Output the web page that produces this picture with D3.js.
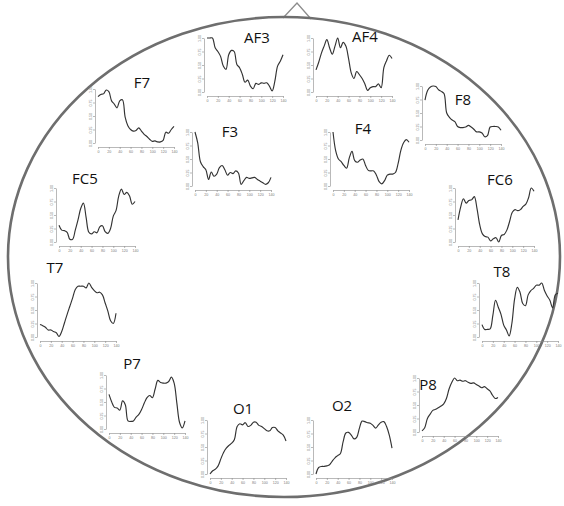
<!DOCTYPE html>
<html>
<head>
<meta charset="utf-8">
<script src="https://cdn.jsdelivr.net/npm/d3@7/dist/d3.min.js"></script>
<style>
  html, body { margin: 0; padding: 0; background: #fff; }
  svg { display: block; }
</style>
</head>
<body>
<svg id="chart" width="564" height="506"></svg>
<script>
// EEG channel traces, normalised amplitude (0–1) sampled every 5 time units
const channels = ["AF3", "AF4", "F7", "F8", "F3", "F4", "FC5", "FC6", "T7", "T8", "P7", "P8", "O1", "O2"];
const timeSteps = [0, 5, 10, 15, 20, 25, 30, 35, 40, 45, 50, 55, 60, 65, 70, 75, 80, 85, 90, 95, 100, 105, 110, 115, 120, 125, 130, 135, 140];
const xTicks = [0, 20, 40, 60, 80, 100, 120, 140];
const yTicks = [0, 0.25, 0.5, 0.75, 1];

const af3 = [1.0, 1.0, 1.0, 0.82, 0.75, 0.66, 0.48, 0.42, 0.69, 0.77, 0.75, 0.51, 0.45, 0.33, 0.18, 0.22, 0.11, 0.06, 0.16, 0.14, 0.17, 0.16, 0.17, 0.11, 0.02, 0.20, 0.48, 0.57, 0.69];
const af4 = [0.41, 0.55, 0.72, 0.85, 0.97, 0.82, 0.70, 0.85, 1.0, 0.82, 0.92, 0.85, 0.62, 0.35, 0.25, 0.38, 0.32, 0.25, 0.15, 0.03, 0.08, 0.10, 0.10, 0.15, 0.08, 0.45, 0.58, 0.68, 0.62];
const f7  = [0.86, 0.90, 0.91, 0.98, 0.95, 0.78, 0.72, 0.65, 0.78, 0.80, 0.48, 0.32, 0.25, 0.22, 0.23, 0.28, 0.22, 0.16, 0.12, 0.07, 0.03, 0.04, 0.02, 0.02, 0.05, 0.20, 0.18, 0.25, 0.31];
const f8  = [0.74, 0.92, 0.98, 1.0, 0.99, 0.93, 0.90, 0.86, 0.50, 0.42, 0.37, 0.34, 0.25, 0.23, 0.23, 0.24, 0.27, 0.24, 0.20, 0.15, 0.15, 0.13, 0.06, 0.08, 0.24, 0.25, 0.25, 0.24, 0.18];
const f3  = [1.0, 0.80, 0.45, 0.36, 0.30, 0.12, 0.26, 0.18, 0.22, 0.34, 0.38, 0.30, 0.20, 0.25, 0.23, 0.28, 0.24, 0.03, 0.10, 0.16, 0.14, 0.15, 0.16, 0.12, 0.09, 0.06, 0.03, 0.06, 0.16];
const f4  = [1.0, 0.65, 0.50, 0.45, 0.38, 0.33, 0.52, 0.64, 0.47, 0.44, 0.48, 0.50, 0.38, 0.29, 0.28, 0.28, 0.20, 0.08, 0.04, 0.10, 0.20, 0.22, 0.22, 0.25, 0.42, 0.66, 0.80, 0.86, 0.81];
const fc5 = [0.31, 0.22, 0.21, 0.18, 0.05, 0.05, 0.22, 0.41, 0.62, 0.72, 0.45, 0.18, 0.15, 0.19, 0.17, 0.28, 0.30, 0.19, 0.16, 0.25, 0.48, 0.58, 0.85, 0.98, 0.88, 0.92, 0.85, 0.70, 0.75];
const fc6 = [0.41, 0.65, 0.80, 0.72, 0.77, 0.78, 0.84, 0.62, 0.32, 0.15, 0.10, 0.09, 0.02, 0.06, 0.08, 0.00, 0.12, 0.14, 0.22, 0.38, 0.55, 0.60, 0.58, 0.60, 0.66, 0.70, 0.82, 1.0, 0.94];
const t7  = [0.23, 0.21, 0.18, 0.13, 0.13, 0.10, 0.08, 0.01, 0.10, 0.26, 0.42, 0.57, 0.72, 0.88, 0.94, 0.94, 0.94, 0.91, 1.0, 0.92, 0.86, 0.82, 0.83, 0.78, 0.63, 0.48, 0.30, 0.25, 0.44];
const t8  = [0.23, 0.14, 0.14, 0.15, 0.40, 0.68, 0.55, 0.42, 0.22, 0.13, 0.02, 0.25, 0.70, 0.92, 0.83, 0.62, 0.58, 0.78, 0.86, 0.90, 0.96, 0.96, 1.0, 0.86, 0.76, 0.68, 0.54, 0.78, 0.81];
const p7  = [0.64, 0.50, 0.40, 0.39, 0.35, 0.52, 0.45, 0.15, 0.14, 0.15, 0.22, 0.27, 0.36, 0.48, 0.58, 0.62, 0.58, 0.74, 0.90, 0.86, 0.85, 0.85, 0.88, 0.96, 0.85, 0.48, 0.12, 0.02, 0.15];
const p8  = [0.02, 0.08, 0.25, 0.33, 0.40, 0.42, 0.45, 0.48, 0.52, 0.62, 0.80, 0.92, 1.0, 0.95, 0.96, 0.94, 0.95, 0.92, 0.90, 0.91, 0.88, 0.85, 0.82, 0.84, 0.80, 0.76, 0.68, 0.62, 0.64];
const o1  = [0.0, 0.06, 0.09, 0.15, 0.28, 0.40, 0.48, 0.53, 0.57, 0.64, 0.88, 0.93, 0.91, 0.95, 0.88, 0.90, 0.96, 0.96, 0.90, 0.88, 0.84, 0.80, 0.80, 0.86, 0.86, 0.80, 0.76, 0.72, 0.61];
const o2  = [0.0, 0.12, 0.14, 0.14, 0.15, 0.17, 0.24, 0.30, 0.34, 0.38, 0.60, 0.76, 0.77, 0.72, 0.65, 0.68, 0.85, 0.98, 0.97, 0.95, 0.94, 0.90, 0.85, 0.91, 0.96, 0.97, 0.88, 0.72, 0.48];

const seriesValues = [af3, af4, f7, f8, f3, f4, fc5, fc6, t7, t8, p7, p8, o1, o2];

// Electrode placement on the head map: left edge of the time axis, top of the trace area
const panelLeft = [207, 316, 98, 425, 195, 333, 59, 458, 40, 482, 109, 422, 210, 316];
const panelTop  = [38, 38, 89, 86, 132, 132, 188, 188, 283, 283, 375, 378, 420, 420];
// Channel name anchor (centre x, baseline y)
const labelX = [257, 365, 142, 463, 230, 363, 85, 500, 55, 502, 132, 428, 243, 342];
const labelY = [43, 42, 88, 105, 137, 134, 184, 185, 273, 277, 369, 390, 414, 411];

const panelW = 76, panelH = 54;
const axisColor = "#8a8a8a";

const svg = d3.select("#chart");

// Head outline with nose
const head = { cx: 284, cy: 257, rx: 276, ry: 240 };
svg.append("path")
  .attr("d", "M283,18 L297,3 L311,19")
  .attr("fill", "#fff")
  .attr("stroke", "#8c8c8c")
  .attr("stroke-width", 1.3)
  .attr("stroke-linejoin", "miter");
svg.append("ellipse")
  .attr("cx", head.cx).attr("cy", head.cy)
  .attr("rx", head.rx).attr("ry", head.ry)
  .attr("fill", "none")
  .attr("stroke", "#6e6e6e")
  .attr("stroke-width", 2.6);

const x = d3.scaleLinear().domain([0, 140]).range([0, panelW]);
const y = d3.scaleLinear().domain([0, 1]).range([panelH, 0]);

const line = d3.line()
  .x((d, i) => x(timeSteps[i]))
  .y(d => y(d))
  .curve(d3.curveCatmullRom.alpha(0.5));

channels.forEach((name, k) => {
  const g = svg.append("g")
    .attr("transform", `translate(${panelLeft[k]},${panelTop[k]})`);

  // time axis, offset below the trace
  const xa = g.append("g")
    .attr("transform", `translate(0,${panelH + 4})`)
    .call(d3.axisBottom(x).tickValues(xTicks).tickSize(2).tickPadding(1.5).tickSizeOuter(0));
  // amplitude axis, offset left of the trace
  const ya = g.append("g")
    .attr("transform", "translate(-3,0)")
    .call(d3.axisLeft(y).tickValues(yTicks).tickFormat(d3.format(".2f")).tickSize(2).tickPadding(1.5).tickSizeOuter(0));

  [xa, ya].forEach(a => {
    a.select(".domain").attr("stroke", axisColor).attr("stroke-width", 0.6);
    a.selectAll(".tick line").attr("stroke", axisColor).attr("stroke-width", 0.6);
    a.selectAll(".tick text")
      .attr("fill", "#7a7a7a")
      .attr("font-size", 3.6)
      .attr("font-family", "Liberation Sans, Arial, sans-serif");
  });
  ya.selectAll(".tick text")
    .attr("text-anchor", "middle")
    .attr("transform", "translate(-3.5,0) rotate(-90)")
    .attr("x", 0).attr("dy", "0");

  g.append("path")
    .datum(seriesValues[k])
    .attr("d", line)
    .attr("fill", "none")
    .attr("stroke", "#333")
    .attr("stroke-width", 1.15)
    .attr("stroke-linejoin", "round");

  svg.append("text")
    .attr("x", labelX[k]).attr("y", labelY[k])
    .attr("text-anchor", "middle")
    .attr("font-family", "Open Sans, Liberation Sans, sans-serif")
    .attr("font-size", 15)
    .attr("fill", "#111")
    .text(name);
});
</script>
</body>
</html>
